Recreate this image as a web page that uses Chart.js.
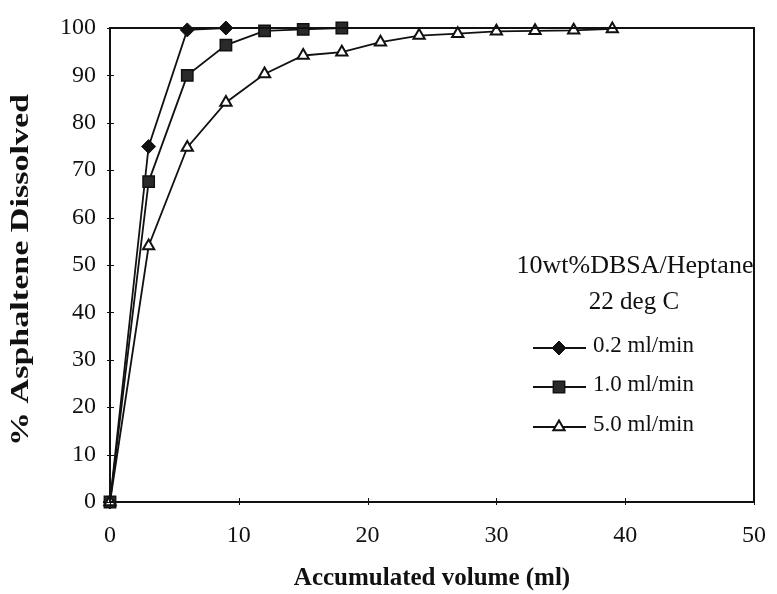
<!DOCTYPE html>
<html><head><meta charset="utf-8">
<script src="https://cdn.jsdelivr.net/npm/chart.js@4/dist/chart.umd.min.js"></script>
<style>html,body{margin:0;padding:0;background:#fff}#wrap{width:777px;height:594px}</style>
</head><body><div id="wrap"><canvas id="c" width="777" height="594"></canvas></div>
<script>
const volume02 = [0, 3, 6, 9];
const dissolved02 = [0, 75, 99.6, 100];
const volume10 = [0, 3, 6, 9, 12, 15, 18];
const dissolved10 = [0, 67.6, 90, 96.4, 99.4, 99.7, 100];
const volume50 = [0, 3, 6, 9, 12, 15, 18, 21, 24, 27, 30, 33, 36, 39];
const dissolved50 = [0, 54, 74.8, 84.3, 90.3, 94.2, 94.9, 97, 98.4, 98.8, 99.3, 99.4, 99.5, 99.8];
const seriesLabels = ['0.2 ml/min', '1.0 ml/min', '5.0 ml/min'];
const legendTitle = ['10wt%DBSA/Heptane', '22 deg C'];
const xTickValues = [0, 10, 20, 30, 40, 50];
const yTickValues = [0, 10, 20, 30, 40, 50, 60, 70, 80, 90, 100];
const xTitle = 'Accumulated volume (ml)';
const yTitle = '% Asphaltene Dissolved';

const SERIF = "'Liberation Serif', 'Times New Roman', serif";
const toPts = (xs, ys) => xs.map((x, i) => ({x: x, y: ys[i]}));

const frame = {
  id: 'frame',
  afterDatasetsDraw(chart) {
    const {ctx, chartArea: a, scales} = chart;
    ctx.save();
    ctx.strokeStyle = '#111';
    ctx.lineWidth = 2;
    ctx.strokeRect(a.left, a.top, a.right - a.left, a.bottom - a.top);
    ctx.lineWidth = 1;
    ctx.beginPath();
    scales.y.ticks.forEach(t => {
      const py = Math.round(scales.y.getPixelForValue(t.value)) + 0.5;
      ctx.moveTo(a.left - 3, py); ctx.lineTo(a.left + 4, py);
    });
    scales.x.ticks.forEach(t => {
      const px = Math.round(scales.x.getPixelForValue(t.value)) + 0.5;
      ctx.moveTo(px, a.bottom + 3); ctx.lineTo(px, a.bottom - 4);
    });
    ctx.stroke();
    ctx.restore();
  },
  afterDraw(chart) {
    const {ctx, chartArea: a} = chart;
    ctx.save();
    ctx.fillStyle = '#111';
    ctx.font = 'bold 25px ' + SERIF;
    ctx.textAlign = 'center';
    ctx.textBaseline = 'middle';
    ctx.translate(22, (a.top + a.bottom) / 2 + 5);
    ctx.rotate(-Math.PI / 2);
    const w = ctx.measureText(yTitle).width;
    ctx.scale(352 / w, 1);
    ctx.fillText(yTitle, 0, 0);
    ctx.restore();
  }
};

const legendBox = {
  id: 'legendBox',
  afterDraw(chart) {
    const ctx = chart.ctx;
    ctx.save();
    ctx.fillStyle = '#111';
    ctx.font = '26px ' + SERIF;
    ctx.textAlign = 'center';
    ctx.textBaseline = 'middle';
    ctx.fillText(legendTitle[0], 635, 266);
    ctx.font = '25px ' + SERIF;
    ctx.fillText(legendTitle[1], 634, 302);
    ctx.font = '23px ' + SERIF;
    const rowY = [346, 385, 425];
    chart.data.datasets.forEach((ds, i) => {
      const y = rowY[i];
      const ly = y + 2;
      ctx.strokeStyle = ds.borderColor;
      ctx.lineWidth = ds.borderWidth;
      ctx.beginPath(); ctx.moveTo(533, ly); ctx.lineTo(586, ly); ctx.stroke();
      ctx.fillStyle = ds.pointBackgroundColor;
      ctx.strokeStyle = ds.pointBorderColor;
      ctx.lineWidth = ds.pointBorderWidth;
      Chart.helpers.drawPoint(ctx, {pointStyle: ds.pointStyle, rotation: 0, radius: ds.pointRadius, borderWidth: ds.pointBorderWidth}, 559, ly);
      ctx.fillStyle = '#111';
      ctx.textAlign = 'left';
      ctx.fillText(ds.label, 593, y);
    });
    ctx.restore();
  }
};

new Chart(document.getElementById('c'), {
  type: 'scatter',
  data: {
    datasets: [
      {label: seriesLabels[0], data: toPts(volume02, dissolved02), showLine: true, order: 2, clip: false,
       borderColor: '#111', borderWidth: 1.8, pointStyle: 'rectRot', pointRadius: 7,
       pointBackgroundColor: '#111', pointBorderColor: '#111', pointBorderWidth: 1},
      {label: seriesLabels[1], data: toPts(volume10, dissolved10), showLine: true, order: 1, clip: false,
       borderColor: '#111', borderWidth: 1.8, pointStyle: 'rect', pointRadius: 8,
       pointBackgroundColor: '#2a2a2a', pointBorderColor: '#111', pointBorderWidth: 1.5},
      {label: seriesLabels[2], data: toPts(volume50, dissolved50), showLine: true, order: 0, clip: false,
       borderColor: '#111', borderWidth: 1.8, pointStyle: 'triangle', pointRadius: 6.5,
       pointBackgroundColor: '#fff', pointBorderColor: '#111', pointBorderWidth: 2}
    ]
  },
  options: {
    responsive: false,
    animation: false,
    devicePixelRatio: 1,
    layout: {padding: {left: 0, right: 0, top: 28, bottom: 0}},
    plugins: {legend: {display: false}, tooltip: {enabled: false}},
    scales: {
      x: {
        type: 'linear', min: 0, max: 50,
        afterBuildTicks: s => { s.ticks = xTickValues.map(v => ({value: v})); },
        afterFit: s => { s.height = 92; },
        grid: {display: false},
        border: {display: false},
        ticks: {color: '#111', font: {family: SERIF, size: 24}, padding: 11, maxRotation: 0},
        title: {display: true, text: xTitle, color: '#111', font: {family: SERIF, size: 25, weight: 'bold'}, padding: 0}
      },
      y: {
        type: 'linear', min: 0, max: 100,
        afterBuildTicks: s => { s.ticks = yTickValues.map(v => ({value: v})); },
        afterFit: s => { s.width = 110; },
        grid: {display: false},
        border: {display: false},
        ticks: {color: '#111', font: {family: SERIF, size: 24}, padding: 6},
        title: {display: false}
      }
    }
  },
  plugins: [frame, legendBox]
});
</script>
</body></html>
